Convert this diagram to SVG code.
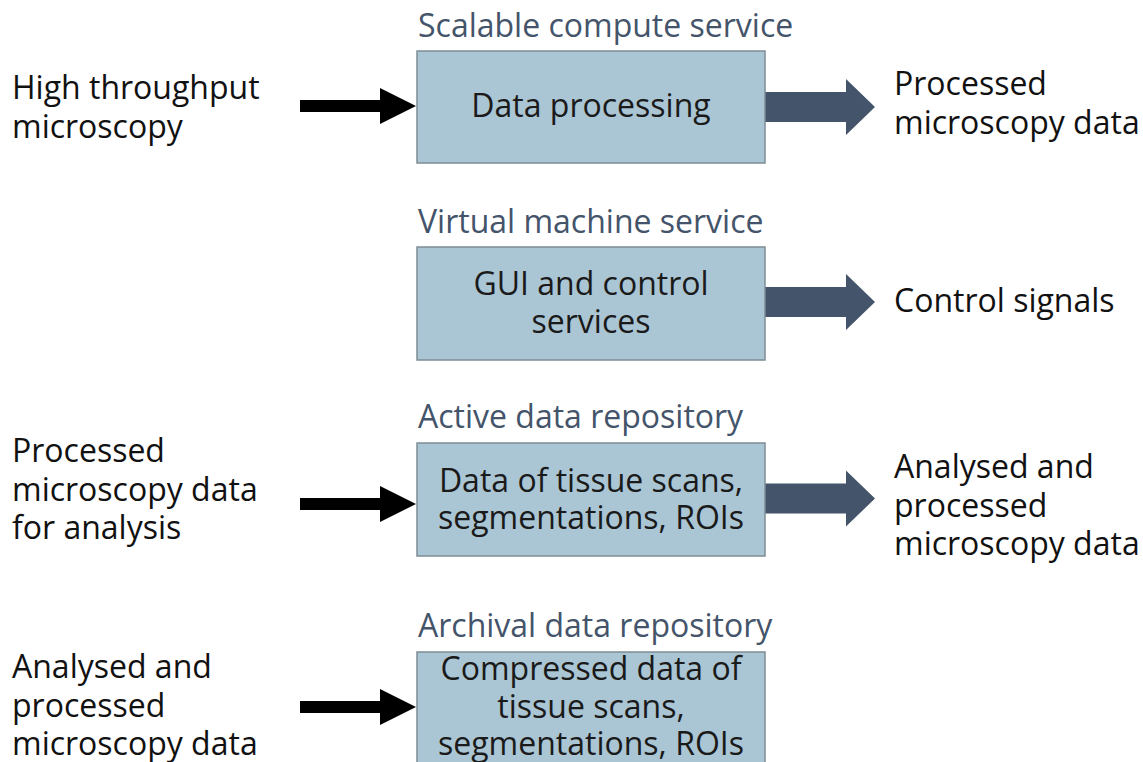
<svg xmlns="http://www.w3.org/2000/svg" width="1143" height="762" viewBox="0 0 1143 762">
<style>
text{font-family:"Open Sans","Noto Sans","Liberation Sans",sans-serif;font-size:32px}
.t{fill:#44546A}
.b{fill:#1a1a1a;text-anchor:middle}
.l{fill:#111}
.box{fill:#AAC5D3;stroke:#7E8C95;stroke-width:1.5}
.ba{fill:#000}
.na{fill:#44546A}
</style>
<rect width="1143" height="762" fill="#fff"/>
<g id="connectors">
<polygon class="ba" points="300,100 380,100 380,88 416,106 380,124 380,112 300,112"/>
<polygon class="ba" points="300,498 380,498 380,486 416,504 380,522 380,510 300,510"/>
<polygon class="ba" points="300,701 380,701 380,689 416,707 380,725 380,713 300,713"/>
<polygon class="na" points="765,92 846,92 846,79 875,107 846,135 846,122 765,122"/>
<polygon class="na" points="765,287 846,287 846,274 875,302 846,330 846,317 765,317"/>
<polygon class="na" points="765,483.5 846,483.5 846,470.5 875,498.5 846,526.5 846,513.5 765,513.5"/>
</g>
<g id="node-compute">
<text class="t" x="418" y="37">Scalable compute service</text>
<rect class="box" x="417" y="51" width="348" height="112"/>
<text class="b" x="591" y="117">Data processing</text>
</g>
<g id="node-vm">
<text class="t" x="418" y="233">Virtual machine service</text>
<rect class="box" x="417" y="247" width="348" height="113"/>
<text class="b" x="591" y="295">GUI and control</text>
<text class="b" x="591" y="333">services</text>
</g>
<g id="node-active">
<text class="t" x="418" y="428">Active data repository</text>
<rect class="box" x="417" y="443" width="348" height="113"/>
<text class="b" x="591" y="491.5">Data of tissue scans,</text>
<text class="b" x="591" y="529">segmentations, ROIs</text>
</g>
<g id="node-archival">
<text class="t" x="418" y="637">Archival data repository</text>
<rect class="box" x="417" y="652" width="348" height="113"/>
<text class="b" x="591" y="680">Compressed data of</text>
<text class="b" x="591" y="718">tissue scans,</text>
<text class="b" x="591" y="755">segmentations, ROIs</text>
</g>
<g id="in-microscopy">
<text class="l" x="12" y="99">High throughput</text>
<text class="l" x="12" y="137.5">microscopy</text>
</g>
<g id="in-processed">
<text class="l" x="12" y="462">Processed</text>
<text class="l" x="12" y="500.5">microscopy data</text>
<text class="l" x="12" y="539">for analysis</text>
</g>
<g id="in-analysed">
<text class="l" x="12" y="678">Analysed and</text>
<text class="l" x="12" y="717">processed</text>
<text class="l" x="12" y="755">microscopy data</text>
</g>
<g id="out-processed">
<text class="l" x="894" y="95">Processed</text>
<text class="l" x="894" y="133.5">microscopy data</text>
</g>
<g id="out-control">
<text class="l" x="894" y="312">Control signals</text>
</g>
<g id="out-analysed">
<text class="l" x="894" y="478">Analysed and</text>
<text class="l" x="894" y="516.5">processed</text>
<text class="l" x="894" y="555">microscopy data</text>
</g>
</svg>
